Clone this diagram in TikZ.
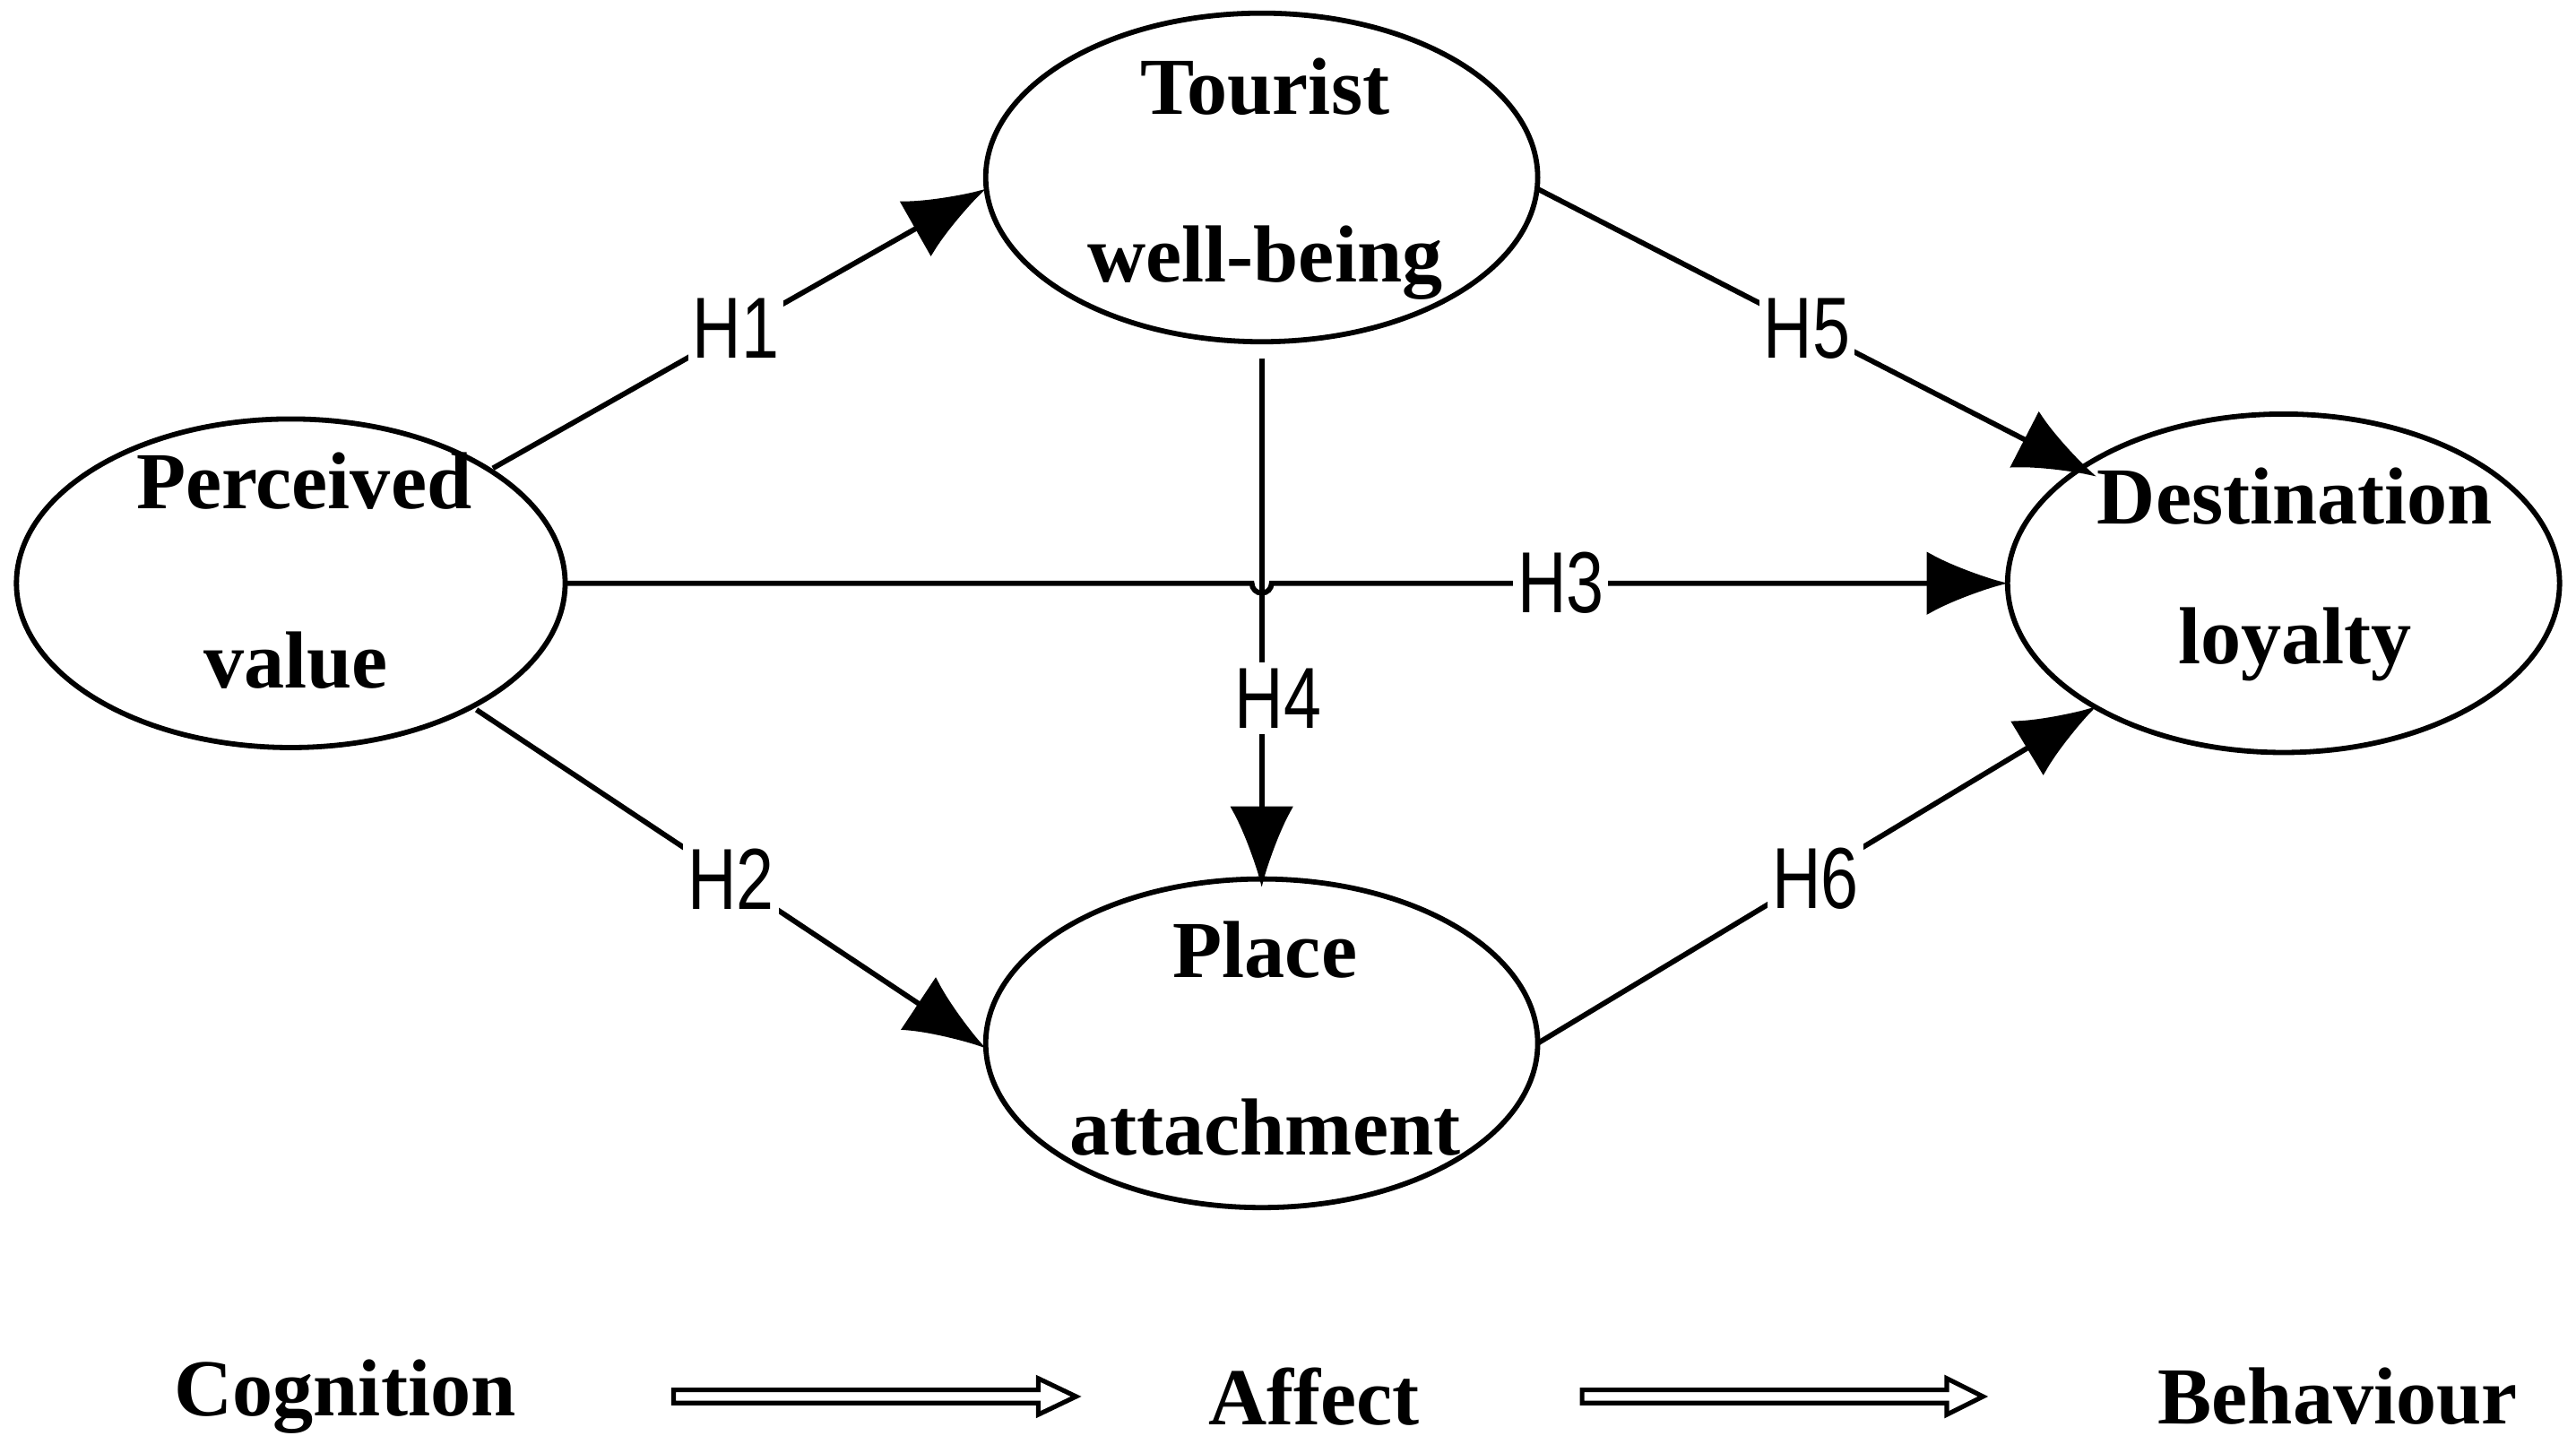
\documentclass[tikz,border=0pt]{standalone}
\usepackage{fontspec}
\setmainfont{Liberation Serif}
\newfontfamily\lblfont{Liberation Sans}
\usetikzlibrary{arrows.meta}
\begin{document}
\begin{tikzpicture}[x=0.01cm,y=-0.01cm,
  latent/.style={draw,line width=0.9pt,ellipse,minimum width=336\pgflinewidth},
  ttl/.style={font=\fontsize{14}{16}\selectfont\bfseries},
  conn/.style={line width=0.9pt,-{Latex[length=14pt,width=11pt]}},
  hlab/.style={fill=white,inner sep=1pt,font=\fontsize{15}{17}\selectfont\lblfont,xscale=0.78},
  hollow/.style={draw,line width=0.8pt,fill=white}]
\useasboundingbox (0,0) rectangle (1568,884);
\draw[line width=0.9pt] (177,355) ellipse [x radius=167,y radius=100];
\draw[line width=0.9pt] (768,108) ellipse [x radius=168,y radius=100];
\draw[line width=0.9pt] (768,635) ellipse [x radius=168,y radius=100];
\draw[line width=0.9pt] (1390,355) ellipse [x radius=168,y radius=103];
\coordinate (PV) at (177,355);
\node[ttl] (pv1) at (185,293) {Perceived};
\node[ttl] (pv2) at (180,402) {value};
\node[ttl] (tw1) at (770,53) {Tourist};
\node[ttl] (tw2) at (770,160) {well-being};
\node[ttl] (pa1) at (770,578) {Place};
\node[ttl] (pa2) at (770,686) {attachment};
\node[ttl] (dl1) at (1397,302) {Destination};
\node[ttl] (dl2) at (1397,392) {loyalty};
\coordinate (h1s) at (300,285); \coordinate (h1e) at (600,115);
\coordinate (h2s) at (290,432); \coordinate (h2e) at (600,638);
\coordinate (h3s) at (345,355); \coordinate (h3e) at (1222,355);
\coordinate (h4s) at (768,218); \coordinate (h4e) at (768,540);
\coordinate (h5s) at (936,115); \coordinate (h5e) at (1276,290);
\coordinate (h6s) at (936,635); \coordinate (h6e) at (1276,430);
\draw[conn] (h1s) -- (h1e);
\draw[conn] (h2s) -- (h2e);
\draw[conn] (h4s) -- (h4e);
\draw[conn] (h3s) -- (762,355) arc[start angle=180,end angle=0,radius=6] -- (h3e);
\draw[conn] (h5s) -- (h5e);
\draw[conn] (h6s) -- (h6e);
\node[hlab] (l1) at (448,200) {H1};
\node[hlab] (l2) at (445,535) {H2};
\node[hlab] (l3) at (950,355) {H3};
\node[hlab] (l4) at (778,425) {H4};
\node[hlab] (l5) at (1100,200) {H5};
\node[hlab] (l6) at (1105,535) {H6};
\node[ttl] (cog) at (210,850) {Cognition};
\node[ttl] (aff) at (800,850) {Affect};
\node[ttl] (beh) at (1423,850) {Behaviour};
\draw[hollow] (410,846) -- (632,846) -- (632,839) -- (655,850) -- (632,861) -- (632,854) -- (410,854) -- cycle;
\draw[hollow] (963,846) -- (1185,846) -- (1185,839) -- (1207,850) -- (1185,861) -- (1185,854) -- (963,854) -- cycle;
\end{tikzpicture}
\end{document}
